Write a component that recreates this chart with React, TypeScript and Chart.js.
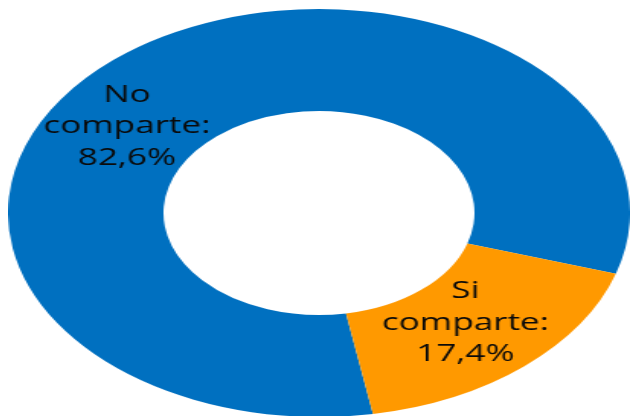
import React, { useEffect, useRef } from "react";
import { Chart, registerables } from "chart.js";

Chart.register(...registerables);

const categories = ["No comparte", "Si comparte"];
const values = [82.6, 17.4];
const labelLines = [
  ["No", "comparte:", "82,6%"],
  ["Si", "comparte:", "17,4%"],
];
const colors = ["#0070C0", "#FF9900"];
// label anchor offsets from each arc's centre point (local, unscaled px)
const labelOffsets = [
  [-25, 35],
  [-5, 2],
];

const STRETCH = 1.5245;

const labelPlugin = {
  id: "ringLabels",
  afterDatasetsDraw(chart: any) {
    const ctx = chart.ctx;
    const meta = chart.getDatasetMeta(0);
    ctx.save();
    ctx.font = "23px 'Open Sans'";
    ctx.fillStyle = "#0a0a0a";
    ctx.textAlign = "center";
    ctx.textBaseline = "alphabetic";
    const lh = 31.5;
    meta.data.forEach((arc: any, i: number) => {
      const p = arc.getCenterPoint();
      const x = p.x + labelOffsets[i][0];
      const y = p.y + labelOffsets[i][1];
      const lines = labelLines[i];
      lines.forEach((t, j) => {
        ctx.fillText(t, x, y + (j - 1) * lh);
      });
    });
    ctx.restore();
  },
};

export default function App() {
  const ref = useRef<HTMLCanvasElement | null>(null);
  useEffect(() => {
    if (!ref.current) return;
    const chart = new Chart(ref.current, {
      type: "doughnut",
      data: {
        labels: categories,
        datasets: [
          {
            data: values,
            backgroundColor: colors,
            borderWidth: 0,
            hoverOffset: 0,
            offset: 0,
          },
        ],
      },
      options: {
        animation: false,
        responsive: true,
        maintainAspectRatio: false,
        cutout: "50%",
        rotation: 170,
        spacing: 0,
        layout: { padding: { top: 9, bottom: 0, left: 0, right: 0 } },
        plugins: {
          legend: { display: false },
          tooltip: { enabled: false },
        },
        events: [],
      },
      plugins: [labelPlugin],
    });
    return () => chart.destroy();
  }, []);

  return (
    <div
      style={{
        position: "fixed",
        left: 0,
        top: 0,
        width: 631,
        height: 416,
        background: "#ffffff",
        overflow: "hidden",
      }}
    >
      <div
        style={{
          position: "absolute",
          left: 7.5,
          top: 0,
          width: 408,
          height: 417,
          transform: `scaleX(${STRETCH})`,
          transformOrigin: "0 0",
        }}
      >
        <canvas ref={ref} />
      </div>
    </div>
  );
}
